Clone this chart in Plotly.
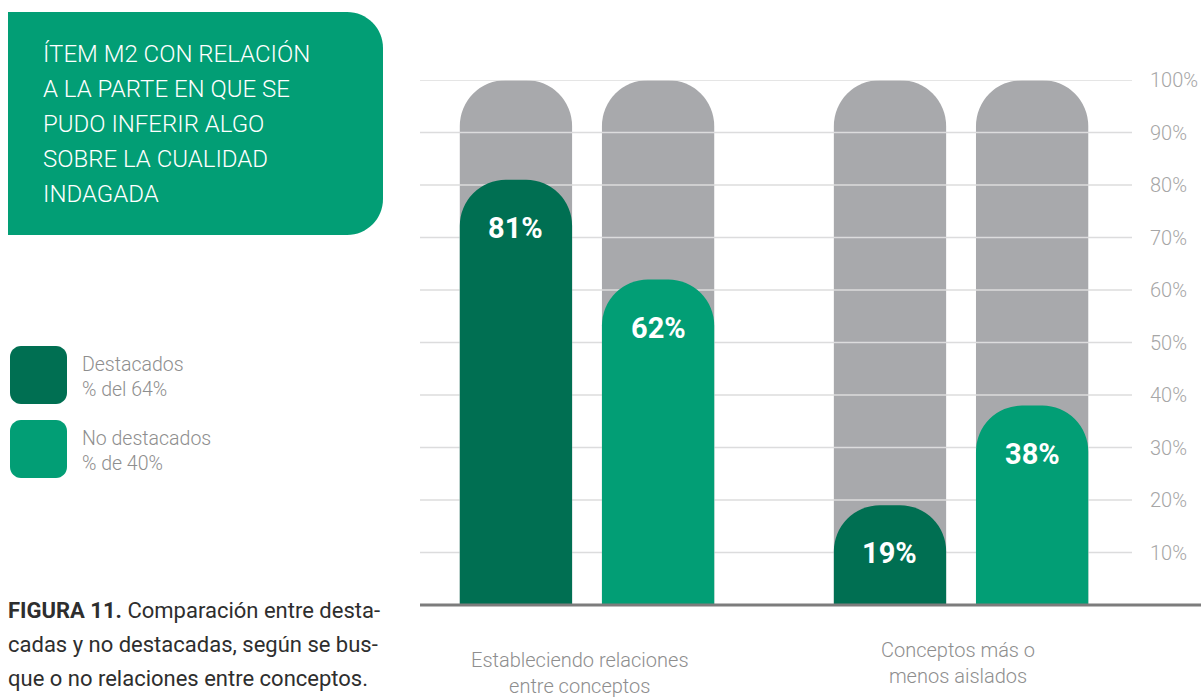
import plotly.graph_objects as go

# ---- data -------------------------------------------------------------
categories = ["Estableciendo relaciones<br>entre conceptos",
              "Conceptos más o<br>menos aislados"]
destacados = [81, 19]        # % del 64%
no_destacados = [62, 38]     # % de 40%
total = [100, 100]           # background track
tick_values = [10, 20, 30, 40, 50, 60, 70, 80, 90, 100]
tick_labels = [f"{v}%" for v in tick_values]
series_names = ["Destacados", "No destacados"]
series_notes = ["% del 64%", "% de 40%"]
title_lines = ["ÍTEM M2 CON RELACIÓN", "A LA PARTE EN QUE SE",
               "PUDO INFERIR ALGO", "SOBRE LA CUALIDAD", "INDAGADA"]
caption_bold = "FIGURA 11."
caption_lines = [" Comparación entre desta-",
                 "cadas y no destacadas, según se bus-",
                 "que o no relaciones entre conceptos."]

# ---- style ------------------------------------------------------------
DARK = "#006F52"
GREEN = "#029E75"
GREY = "#A8A9AC"
GRID = "#DCDCDD"
TXT_GREY = "#8E8E8E"
FONT = "Roboto"

W, H = 1201, 697
L, R, T, B = 420, 1132, 80, 605           # plot area in pixels
BARGAP, GROUPGAP = 0.24, 0.21
x_pos = list(range(len(categories)))
x_range = [-0.4465, 1.457]


def px(x):
    return (x - L) / (R - L)


def py(y):
    return (B - y) / (B - T)


def rounded_rect(x0, y0, x1, y1, r_tl, r_tr, r_br, r_bl):
    """SVG path (paper coords) for a rectangle given in pixels."""
    k = 0.5523
    pts = []
    pts.append(f"M{px(x0 + r_tl)},{py(y0)}")
    pts.append(f"L{px(x1 - r_tr)},{py(y0)}")
    if r_tr:
        pts.append(f"C{px(x1 - r_tr + k * r_tr)},{py(y0)} {px(x1)},{py(y0 + r_tr - k * r_tr)} {px(x1)},{py(y0 + r_tr)}")
    pts.append(f"L{px(x1)},{py(y1 - r_br)}")
    if r_br:
        pts.append(f"C{px(x1)},{py(y1 - r_br + k * r_br)} {px(x1 - r_br + k * r_br)},{py(y1)} {px(x1 - r_br)},{py(y1)}")
    pts.append(f"L{px(x0 + r_bl)},{py(y1)}")
    if r_bl:
        pts.append(f"C{px(x0 + r_bl - k * r_bl)},{py(y1)} {px(x0)},{py(y1 - r_bl + k * r_bl)} {px(x0)},{py(y1 - r_bl)}")
    pts.append(f"L{px(x0)},{py(y0 + r_tl)}")
    if r_tl:
        pts.append(f"C{px(x0)},{py(y0 + r_tl - k * r_tl)} {px(x0 + r_tl - k * r_tl)},{py(y0)} {px(x0 + r_tl)},{py(y0)}")
    pts.append("Z")
    return " ".join(pts)


fig = go.Figure()

# grey tracks (base subplot)
for _ in range(2):
    fig.add_trace(go.Bar(x=x_pos, y=total, marker=dict(color=GREY, cornerradius=46, line_width=0),
                         hoverinfo="skip", showlegend=False, xaxis="x", yaxis="y"))

# gridlines drawn over the tracks
gx, gy = [], []
for v in tick_values:
    gx += [x_range[0], x_range[1], None]
    gy += [v, v, None]
fig.add_trace(go.Scatter(x=gx, y=gy, mode="lines", line=dict(color=GRID, width=1.5),
                         hoverinfo="skip", showlegend=False, cliponaxis=False,
                         xaxis="x", yaxis="y"))

# coloured bars in an overlaid subplot so they sit above the gridlines
for vals, col, name in [(destacados, DARK, series_names[0]), (no_destacados, GREEN, series_names[1])]:
    fig.add_trace(go.Bar(x=x_pos, y=vals, name=name, marker=dict(color=col, cornerradius=46, line_width=0),
                         showlegend=False, xaxis="x2", yaxis="y2"))

# value labels inside the bar tops
offset = (1 - BARGAP) / 4
annotations = []
for vals, sgn in [(destacados, -1), (no_destacados, 1)]:
    for xp, v in zip(x_pos, vals):
        annotations.append(dict(x=xp + sgn * offset, y=v, xref="x", yref="y", yshift=-48,
                                text=f"<b>{v}%</b>", showarrow=False,
                                font=dict(family=FONT, size=29, color="white")))

# category labels
cat_shift = [(-7, -41), (-3, -31)]
for xp, c, (xs, ys) in zip(x_pos, categories, cat_shift):
    annotations.append(dict(x=xp, y=0, xref="x", yref="y", xshift=xs, yshift=ys,
                            yanchor="top", text=c, showarrow=False,
                            font=dict(family=FONT, size=20, color=TXT_GREY, weight=300)))

# title box
shapes = [dict(type="path", xref="paper", yref="paper", layer="below",
               path=rounded_rect(8, 12, 383, 235, 0, 36, 36, 0),
               fillcolor=GREEN, line=dict(width=0))]
for i, line in enumerate(title_lines):
    annotations.append(dict(x=px(41), y=py(54 + 35 * i), xref="paper", yref="paper",
                            xanchor="left", yanchor="middle", text=line, showarrow=False,
                            font=dict(family=FONT, size=24, color="white", weight=300)))

# legend swatches
for i, (name, note, col) in enumerate(zip(series_names, series_notes, [DARK, GREEN])):
    y0 = 346 + 74 * i
    shapes.append(dict(type="path", xref="paper", yref="paper", layer="below",
                       path=rounded_rect(10, y0, 67, y0 + 58, 11, 11, 11, 11),
                       fillcolor=col, line=dict(width=0)))
    annotations.append(dict(x=px(80), y=py(y0 + 31), xref="paper", yref="paper",
                            xanchor="left", yanchor="middle", align="left",
                            text=f"{name}<br>{note}", showarrow=False,
                            font=dict(family=FONT, size=19.5, color=TXT_GREY, weight=300)))

# caption
for i, line in enumerate(caption_lines):
    txt = (f"<b>{caption_bold}</b>" + line) if i == 0 else line
    annotations.append(dict(x=px(6), y=py(610 + 34 * i), xref="paper", yref="paper",
                            xanchor="left", yanchor="middle", text=txt, showarrow=False,
                            font=dict(family=FONT, size=22, color="#2E2E2E")))

# baseline
shapes.append(dict(type="line", xref="paper", yref="paper", layer="above",
                   x0=px(420), x1=px(1201), y0=py(605), y1=py(605),
                   line=dict(color="#7C7C7C", width=3)))

fig.update_layout(
    width=W, height=H,
    margin=dict(l=L, r=W - R, t=T, b=H - B, pad=0, autoexpand=False),
    paper_bgcolor="white", plot_bgcolor="rgba(0,0,0,0)",
    barmode="group", bargap=BARGAP, bargroupgap=GROUPGAP,
    showlegend=False,
    xaxis=dict(range=x_range, visible=False, fixedrange=True, automargin=False),
    xaxis2=dict(range=x_range, overlaying="x", visible=False, fixedrange=True),
    yaxis=dict(range=[0, 100], side="right", tickvals=tick_values, ticktext=tick_labels,
               showgrid=False, zeroline=False, showline=False, ticks="",
               ticklabelstandoff=17, automargin=False,
               tickfont=dict(family=FONT, size=20, color="#A6A6A6", weight=300),
               fixedrange=True),
    yaxis2=dict(range=[0, 100], overlaying="y", visible=False, fixedrange=True),
    shapes=shapes, annotations=annotations,
)

fig.write_html("out.html")
